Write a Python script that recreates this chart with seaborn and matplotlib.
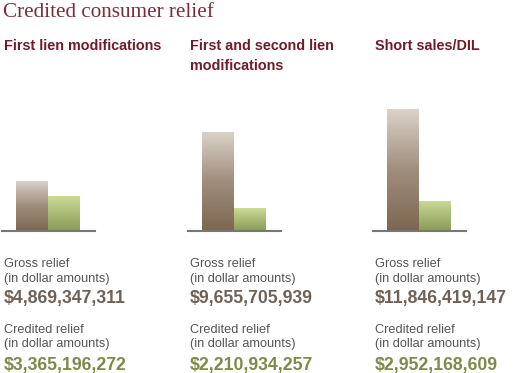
import numpy as np
import pandas as pd
import seaborn as sns
import matplotlib.pyplot as plt
from matplotlib.colors import LinearSegmentedColormap

# data (billions of dollars)
panels = ["First lien modifications", "First and second lien\nmodifications", "Short sales/DIL"]
gross = [4.869347311, 9.655705939, 11.846419147]
credited = [3.365196272, 2.210934257, 2.952168609]
gross_txt = ["$4,869,347,311", "$9,655,705,939", "$11,846,419,147"]
credited_txt = ["$3,365,196,272", "$2,210,934,257", "$2,952,168,609"]

sns.set_theme(style="white")
plt.rcParams['font.family'] = ['Liberation Sans', 'DejaVu Sans']

W, H = 520, 373
fig = plt.figure(figsize=(W / 100, H / 100), dpi=100)

def fx(px):
    return px / W

def fy(py):
    return 1 - py / H

gross_cmap = LinearSegmentedColormap.from_list("g", ["#7c6651", "#a08e7c", "#dbd3cb"])
cred_cmap = LinearSegmentedColormap.from_list("c", ["#8a9a58", "#a9bb74", "#ccdb98"])

maroon = "#6f1d2a"
axis_left = [2, 188, 373]
axis_w = 93
top_px = 100
ymax = (231 - top_px) / 10.27

for i in range(3):
    ax = fig.add_axes([fx(axis_left[i]), fy(231), fx(axis_w), (231 - top_px) / H])
    df = pd.DataFrame({"kind": ["Gross", "Credited"], "value": [gross[i], credited[i]]})
    sns.barplot(data=df, x="kind", y="value", ax=ax, width=1.0,
                palette=["#a08e7c", "#a9bb74"], hue="kind", legend=False)
    # gradient fill clipped to each bar
    for patch, cmap in zip(ax.patches, [gross_cmap, cred_cmap]):
        x0, y0 = patch.get_x(), patch.get_y()
        w, h = patch.get_width(), patch.get_height()
        grad = np.linspace(0, 1, 256).reshape(-1, 1)
        im = ax.imshow(grad, cmap=cmap, origin="lower", aspect="auto",
                       extent=[x0, x0 + w, y0, y0 + h], zorder=patch.get_zorder() + 0.1)
        im.set_clip_path(patch)
    ax.set_xlim(-0.94, 1.97)
    ax.set_ylim(0, ymax)
    ax.set_xticks([])
    ax.set_yticks([])
    ax.set_xlabel("")
    ax.set_ylabel("")
    for s in ["top", "left", "right"]:
        ax.spines[s].set_visible(False)
    ax.spines["bottom"].set_color("#777777")
    ax.spines["bottom"].set_linewidth(1.5)

    tx = fx(axis_left[i] + 2)
    fig.text(tx, fy(38.5), panels[i], fontsize=10.4, fontweight="bold", color=maroon,
             va="top", ha="left", linespacing=1.6)
    fig.text(tx, fy(267), "Gross relief", fontsize=9.2, color="#555555", va="baseline")
    fig.text(tx, fy(282), "(in dollar amounts)", fontsize=9.2, color="#555555", va="baseline")
    fig.text(tx, fy(303), gross_txt[i], fontsize=12.7, fontweight="bold", color="#6e6157", va="baseline")
    fig.text(tx, fy(333), "Credited relief", fontsize=9.2, color="#555555", va="baseline")
    fig.text(tx, fy(347), "(in dollar amounts)", fontsize=9.2, color="#555555", va="baseline")
    fig.text(tx, fy(370), credited_txt[i], fontsize=12.7, fontweight="bold", color="#7d8a48", va="baseline")

fig.text(fx(3), fy(17), "Credited consumer relief", fontsize=15.2, color="#7a2e3d",
         family=["Liberation Serif", "DejaVu Serif"], va="baseline")

fig.savefig("out.png", dpi=100)
